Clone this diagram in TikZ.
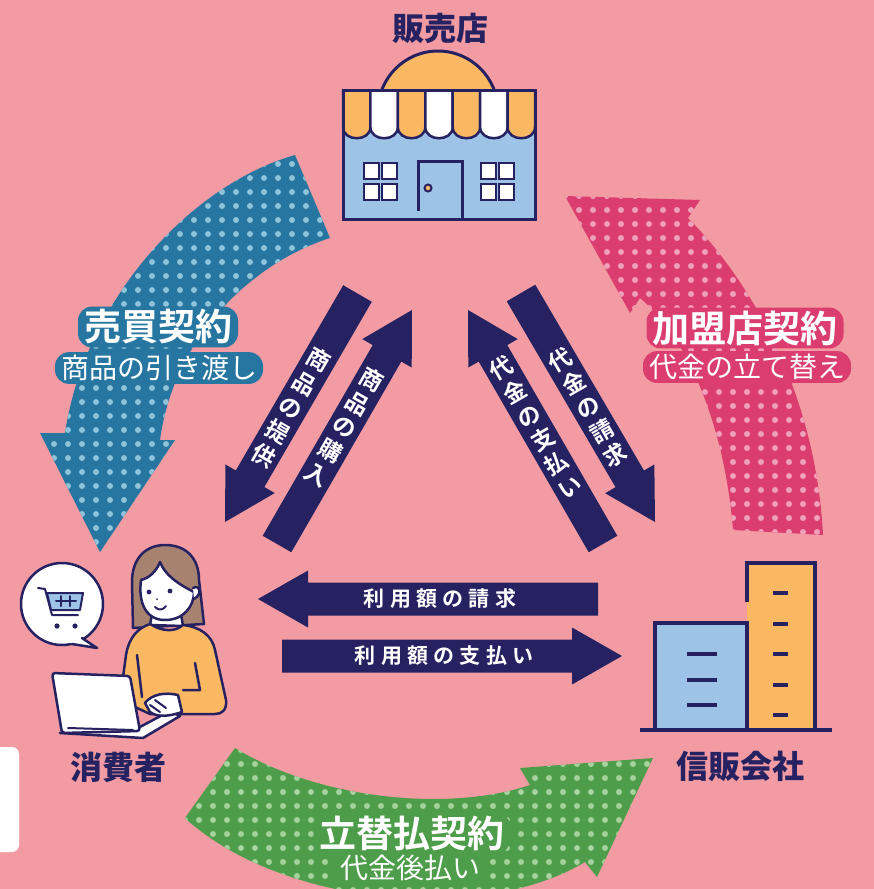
\documentclass[tikz,border=0pt]{standalone}
\usepackage{fontspec}
\usetikzlibrary{calc}
\newfontfamily\jp{Noto Sans CJK JP}
\newfontfamily\jpb{Noto Sans CJK JP Bold}
\IfFontExistsTF{Noto Sans CJK JP Black}
  {\newfontfamily\jph{Noto Sans CJK JP Black}}
  {\newfontfamily\jph{Noto Sans CJK JP Bold}}

\definecolor{bgpink}{HTML}{F39BA3}
\definecolor{navy}{HTML}{262262}
\definecolor{orange}{HTML}{FBB862}
\definecolor{lightblue}{HTML}{9DC3E6}
\definecolor{hair}{HTML}{A7826F}
\definecolor{bluearr}{HTML}{2776A1}
\definecolor{bluedot}{HTML}{8EC3DA}
\definecolor{redarr}{HTML}{DB3E6E}
\definecolor{reddot}{HTML}{EFA0BB}
\definecolor{greenarr}{HTML}{4E9D4A}
\definecolor{greendot}{HTML}{A5D29D}

% navy block arrow from #1 (tail) to #2 (tip)
\newcommand{\blockarrow}[2]{%
  \coordinate (hb) at ($(#2)!50pt!(#1)$);
  \fill[navy] ($(#1)!16.5pt!90:(#2)$) -- ($(hb)!16.5pt!-90:(#1)$)
    -- ($(hb)!28.5pt!-90:(#1)$) -- (#2) -- ($(hb)!28.5pt!90:(#1)$)
    -- ($(hb)!16.5pt!90:(#1)$) -- ($(#1)!16.5pt!-90:(#2)$) -- cycle;}

\def\bluepath{(295,155) .. controls (190,185) and (85,300) .. (65,433) -- (40,433) -- (100,552) -- (175,440) -- (160,440) .. controls (175,330) and (260,260) .. (330,238) -- cycle}
\def\redpath{(565,196) -- (700,200) -- (688,218) .. controls (740,270) and (815,380) .. (823,535) -- (733,530) .. controls (725,430) and (690,340) .. (640,298) -- (630,313) -- cycle}
\def\greenpath{(235,748) .. controls (320,800) and (450,812) .. (530,785) -- (520,768) -- (653,758) -- (597,877) -- (585,862) .. controls (480,925) and (280,905) .. (185,818) -- cycle}

\begin{document}
\begin{tikzpicture}[x=1pt,y=-1pt,
  lbl/.style={text=white, fill=#1, rounded corners=14pt, inner xsep=6pt, inner ysep=3pt},
  vtext/.style={text=white, align=center, inner sep=0pt,
    font=\jpb\fontsize{23}{27.5}\selectfont},
  htext/.style={text=white, inner sep=0pt,
    font=\jpb\fontsize{21}{21}\selectfont\addfontfeature{LetterSpace=25}},
  actor/.style={text=navy, font=\jph\fontsize{32}{32}\selectfont},
  ink/.style={navy, line width=2.5pt, line join=round, line cap=round}]

  \fill[bgpink] (0,0) rectangle (874,889);
  \useasboundingbox (0,0) rectangle (874,889);

  % dotted contract arrows
  \fill[bluearr] \bluepath;
  \begin{scope}
    \clip \bluepath;
    \foreach \x in {40,54,...,334} \foreach \y in {150,164,...,556}
      \fill[bluedot] (\x,\y) circle (3pt);
  \end{scope}
  \fill[redarr] \redpath;
  \begin{scope}
    \clip \redpath;
    \foreach \x in {565,579,...,830} \foreach \y in {196,210,...,540}
      \fill[reddot] (\x,\y) circle (3pt);
  \end{scope}
  \fill[greenarr] \greenpath;
  \begin{scope}
    \clip \greenpath;
    \foreach \x in {185,199,...,660} \foreach \y in {750,764,...,895}
      \fill[greendot] (\x,\y) circle (3pt);
  \end{scope}

  \node[lbl=bluearr, font=\jp\fontsize{28}{28}\selectfont] (baibaisub) at (159,368) {商品の引き渡し};
  \node[lbl=bluearr, font=\jpb\fontsize{37}{37}\selectfont] (baibai) at (158,327) {売買契約};
  \node[lbl=redarr, font=\jp\fontsize{28}{28}\selectfont] (kameisub) at (747,367) {代金の立て替え};
  \node[lbl=redarr, font=\jpb\fontsize{37}{37}\selectfont] (kamei) at (745,328) {加盟店契約};
  \node[lbl=greenarr, font=\jp\fontsize{28}{28}\selectfont] (tatekaesub) at (410,868) {代金後払い};
  \node[lbl=greenarr, font=\jpb\fontsize{37}{37}\selectfont] (tatekae) at (412,833) {立替払契約};

  % flows between the three parties
  \coordinate (p1t) at (357.5,293.5); \coordinate (p1h) at (225,522);
  \coordinate (p2t) at (277,544);     \coordinate (p2h) at (412,310);
  \coordinate (p3t) at (603,544);     \coordinate (p3h) at (468,310);
  \coordinate (p4t) at (521,293);     \coordinate (p4h) at (655,522);
  \coordinate (p5t) at (598,599);     \coordinate (p5h) at (258,599);
  \coordinate (p6t) at (282,656);     \coordinate (p6h) at (622,656);
  \blockarrow{p1t}{p1h}
  \blockarrow{p2t}{p2h}
  \blockarrow{p3t}{p3h}
  \blockarrow{p4t}{p4h}
  \blockarrow{p5t}{p5h}
  \blockarrow{p6t}{p6h}
  \node[vtext, rotate=-30] (teikyo) at ($(p1t)!0.5!(p1h)$) {商\\品\\の\\提\\供};
  \node[vtext, rotate=-30] (konyu) at ($(p2t)!0.5!(p2h)$) {商\\品\\の\\購\\入};
  \node[vtext, rotate=30] (shiharai) at ($(p3t)!0.5!(p3h)$) {代\\金\\の\\支\\払\\い};
  \node[vtext, rotate=30] (seikyu) at ($(p4t)!0.5!(p4h)$) {代\\金\\の\\請\\求};
  \node[htext] (riyoseikyu) at (440,599) {利用額の請求};
  \node[htext] (riyoshiharai) at (444,656) {利用額の支払い};

  % shop
  \begin{scope}
    \clip (330,0) rectangle (550,91);
    \draw[navy, line width=3pt, fill=orange] (438,111) circle (60pt);
  \end{scope}
  \fill[lightblue] (343,120) rectangle (535,219);
  \foreach \i in {0,...,6} {
    \pgfmathsetmacro\xa{343+\i*192/7}
    \pgfmathsetmacro\xb{343+(\i+1)*192/7}
    \ifodd\i \def\c{white}\else \def\c{orange}\fi
    \draw[navy, line width=2.5pt, fill=\c] (\xa,90) -- (\xa,127)
      .. controls (\xa,142) and (\xb,142) .. (\xb,127) -- (\xb,90);
  }
  \draw[navy, line width=3pt] (343,90) rectangle (535,219);
  \foreach \wx in {364,481} \foreach \dx/\dy in {0/0,18/0,0/21,18/21}
    \draw[navy, line width=2.5pt, fill=white] (\wx+\dx,163+\dy) rectangle ++(15,16);
  \draw[navy, line width=3pt] (418,211) -- (418,161) -- (462,161) -- (462,219);
  \draw[navy, line width=2pt, fill=orange] (428,188) circle (3.5pt);
  \node[actor] (shop) at (440,28) {販売店};

  % card company
  \fill[orange] (747,563) rectangle (815,730);
  \draw[navy, line width=4pt] (747,602) -- (747,563) -- (815,563) -- (815,730);
  \draw[navy, line width=4pt, fill=lightblue] (655,730) -- (655,623) -- (747,623) -- (747,730);
  \foreach \y in {593,624,654,685,715} \draw[navy, line width=3.5pt] (773,\y) -- (788,\y);
  \foreach \y in {654,680,705} \draw[navy, line width=3.5pt] (687,\y) -- (717,\y);
  \draw[navy, line width=4pt] (640,730) -- (832,730);
  \node[actor] (company) at (740,766) {信販会社};

  % consumer
  \fill[white, rounded corners=7pt] (-20,747) rectangle (19,852);
  \draw[ink, fill=hair] (133,628) -- (132,582) .. controls (132,558) and (146,545) .. (165,545)
    .. controls (186,545) and (199,558) .. (199,580) -- (204,624) -- cycle;
  \draw[ink, fill=white] (152,614) -- (150,625) -- (183,626) -- (181,614) -- cycle;
  \draw[ink, fill=orange] (150,624) .. controls (163,632) and (175,632) .. (183,625)
    .. controls (200,627) and (212,635) .. (215,650) -- (226,700)
    .. controls (227,710) and (222,714) .. (215,714) -- (150,714) -- (120,700)
    -- (126,655) .. controls (129,637) and (138,628) .. (150,624) -- cycle;
  \draw[ink] (195,663) -- (200,690) -- (183,690);
  \draw[ink] (137,655) -- (142,697);
  \draw[ink, fill=white] (141,580) .. controls (138,603) and (146,620) .. (165,620)
    .. controls (184,620) and (194,606) .. (194,592)
    .. controls (178,584) and (165,575) .. (160,562)
    .. controls (156,572) and (149,578) .. (141,580) -- cycle;
  \draw[ink, fill=white] (193,588) .. controls (200,584) and (203,594) .. (194,599);
  \fill[navy] (149,592) circle (2.4pt) (170,591) circle (2.4pt);
  \fill[navy] (157,599) circle (1pt);
  \draw[ink, line width=2pt] (155,607) .. controls (159,611) and (163,610) .. (166,606);
  % laptop and hand
  \draw[ink, fill=white] (60,733) -- (143,738) -- (180,716) -- (170,711) -- (138,728) -- cycle;
  \draw[ink, fill=white] (145,703) .. controls (152,694) and (165,692) .. (178,695)
    -- (182,712) .. controls (170,716) and (158,718) .. (150,712) -- cycle;
  \draw[ink, line width=2pt] (150,705) -- (160,712) (155,700) -- (166,708);
  \draw[ink, fill=white, rounded corners=3pt] (52,673) -- (130,676) -- (140,731) -- (62,733) -- cycle;
  \draw[ink, line width=2pt] (68,728) -- (133,730);
  % speech bubble with cart
  \draw[ink, fill=white] (62,604) circle (41pt);
  \fill[white] (80,636) -- (97,648) -- (70,643) -- cycle;
  \draw[ink] (82,638) -- (97,648) -- (72,644);
  \draw[ink, line width=2pt] (38,588) -- (45,589) -- (52,615) -- (78,615);
  \draw[ink, line width=2pt, fill=lightblue] (47,593) -- (83,593) -- (80,610) -- (51,610) -- cycle;
  \draw[ink, line width=2pt] (56,601) -- (76,601) (61,596) -- (61,606) (70,596) -- (70,606);
  \fill[navy] (57,626) circle (2.6pt) (75,626) circle (2.6pt);
  \node[actor] (consumer) at (118,767) {消費者};
\end{tikzpicture}
\end{document}
